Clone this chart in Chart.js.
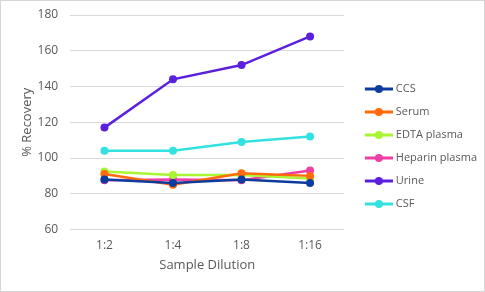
<!DOCTYPE html>
<html>
<head>
<meta charset="utf-8">
<script src="https://cdn.jsdelivr.net/npm/chart.js@4"></script>
<style>
  html, body { margin: 0; padding: 0; background: #fff; }
  #wrap { width: 485px; height: 292px; box-sizing: border-box; border: 1px solid #d6d6d6; position: relative; }
</style>
</head>
<body>
<div id="wrap"><canvas id="chart1"></canvas></div>
<script>
// data
var dilutions = ['1:2', '1:4', '1:8', '1:16'];
var ccs     = [88, 86, 88, 86];
var serum   = [91, 85, 91.5, 90];
var edta    = [92.5, 90.5, 90.5, 88.5];
var heparin = [87.5, 88, 87.5, 93];
var urine   = [117, 144, 152, 168];
var csf     = [104, 104, 109, 112];
var yTicks  = [60, 80, 100, 120, 140, 160, 180];

var font = "'Open Sans', 'Noto Sans', sans-serif";

// legend marker: short line with a dot in the middle, like Excel
function marker(color) {
    var c = document.createElement('canvas');
    c.width = 39; c.height = 10;
    var g = c.getContext('2d');
    g.strokeStyle = color; g.lineWidth = 3;
    g.beginPath(); g.moveTo(11, 5); g.lineTo(39, 5); g.stroke();
    g.fillStyle = color;
    g.beginPath(); g.arc(25, 5, 4, 0, Math.PI * 2); g.fill();
    return c;
}

function series(label, values, color) {
    return {
        label: label,
        data: values,
        borderColor: color,
        backgroundColor: color,
        borderWidth: 2.5,
        pointRadius: 4,
        pointHoverRadius: 4,
        pointBackgroundColor: color,
        pointBorderWidth: 0,
        tension: 0,
        pointStyle: 'circle',
        legendMarker: marker(color)
    };
}

var chartData1 = {
    labels: dilutions,
    datasets: [
        series('CCS', ccs, '#0d3c9c'),
        series('Serum', serum, '#ff6a0d'),
        series('EDTA plasma', edta, '#a9f531'),
        series('Heparin plasma', heparin, '#ee3fa6'),
        series('Urine', urine, '#5a20de'),
        series('CSF', csf, '#33e2e0')
    ]
};

var ctx1 = document.getElementById('chart1').getContext('2d');
var chart1 = new Chart(ctx1, {
    type: 'line',
    data: chartData1,
    options: {
        responsive: true,
        maintainAspectRatio: false,
        animation: false,
        layout: {
            padding: { top: 10, right: -3, left: 18, bottom: 13.5 }
        },
        plugins: {
            legend: {
                position: 'right',
                align: 'center',
                maxWidth: 220,
                // empty title only nudges the items down a little
                title: { display: true, text: ' ', font: { size: 2 }, padding: 1 },
                labels: {
                    usePointStyle: true,
                    pointStyleWidth: 34,
                    padding: 12,
                    color: '#595959',
                    font: { family: font, size: 11 },
                    generateLabels: function(chart) {
                        return chart.data.datasets.map(function(ds, i) {
                            return {
                                text: ds.label,
                                pointStyle: ds.legendMarker,
                                fillStyle: ds.borderColor,
                                strokeStyle: ds.borderColor,
                                lineWidth: 0,
                                fontColor: '#595959',
                                datasetIndex: i,
                                hidden: false
                            };
                        });
                    }
                }
            },
            tooltip: { enabled: false }
        },
        scales: {
            x: {
                offset: true,
                grid: { display: false, drawTicks: false },
                border: { display: false },
                ticks: { color: '#595959', padding: 8.5, font: { family: font, size: 12 } },
                title: { display: true, text: 'Sample Dilution', color: '#595959', padding: { top: -3 }, font: { family: font, size: 13 } }
            },
            y: {
                min: 60,
                max: 180,
                afterBuildTicks: function(axis) {
                    axis.ticks = yTicks.map(function(v) { return { value: v }; });
                },
                // tick padding would otherwise push the plot top down
                afterFit: function(axis) {
                    axis.paddingTop = 14;
                },
                grid: { color: '#d9d9d9', lineWidth: 1, drawTicks: false },
                border: { display: false },
                ticks: { color: '#595959', padding: 12, font: { family: font, size: 12 } },
                title: { display: true, text: '% Recovery', color: '#595959', padding: { top: 0, bottom: -9 }, font: { family: font, size: 13 } }
            }
        }
    }
});
</script>
</body>
</html>
